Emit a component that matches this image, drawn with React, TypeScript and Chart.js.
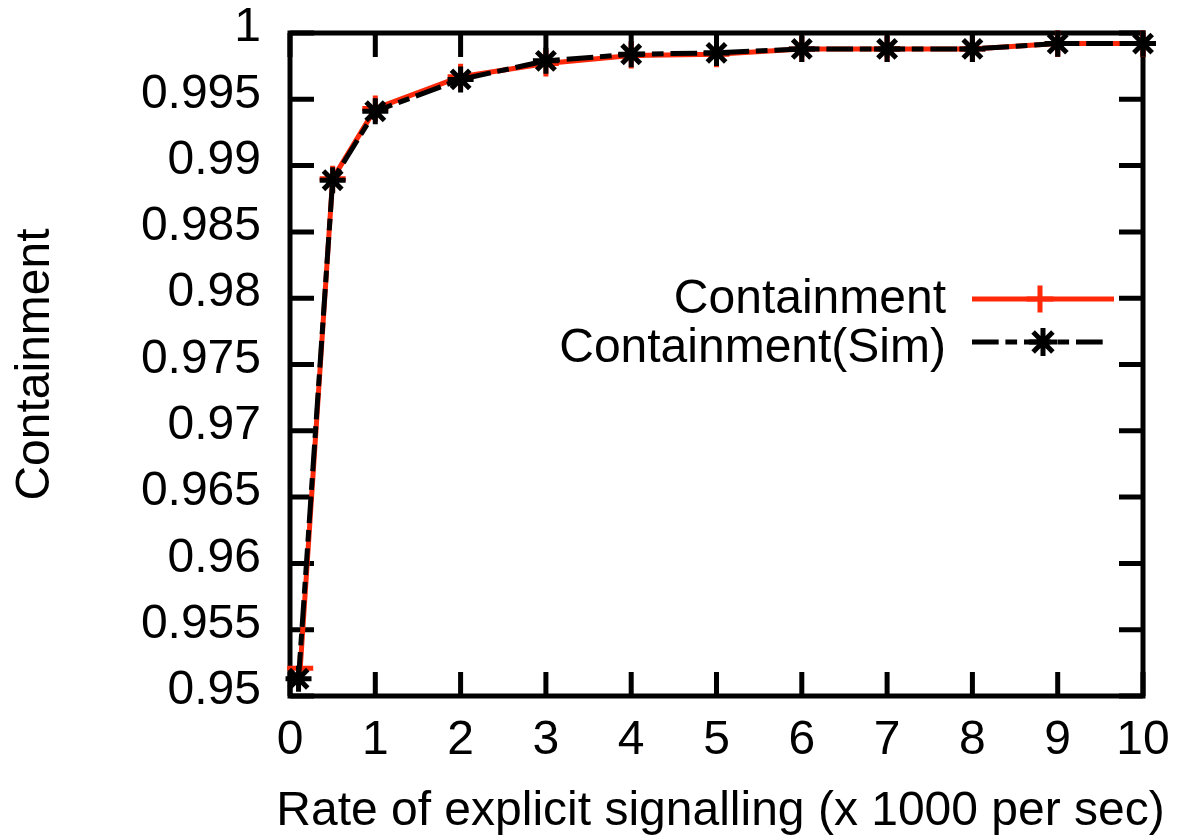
import { useEffect, useRef } from "react";
import { Chart, registerables } from "chart.js";

Chart.register(...registerables);

// Signalling rate (x 1000 per sec) and containment probability, analytic model
const containmentRate = [0.12, 0.5, 1, 2, 3, 4, 5, 6, 7, 8, 9, 10];
const containment = [0.9521, 0.989, 0.9943, 0.9967, 0.9977, 0.9983, 0.9984, 0.9988, 0.9988, 0.9988, 0.9992, 0.9992];

// Same quantity measured in simulation
const simRate = [0.1, 0.5, 1, 2, 3, 4, 5, 6, 7, 8, 9, 10];
const containmentSim = [0.9513, 0.9889, 0.9941, 0.9965, 0.9979, 0.9984, 0.9985, 0.9988, 0.9988, 0.9988, 0.9992, 0.9992];

const xTicks = [0, 1, 2, 3, 4, 5, 6, 7, 8, 9, 10];
const yTicks = [0.95, 0.955, 0.96, 0.965, 0.97, 0.975, 0.98, 0.985, 0.99, 0.995, 1];

const seriesLabels = ["Containment", "Containment(Sim)"];
const xTitle = "Rate of explicit signalling (x 1000 per sec)";
const yTitle = "Containment";

const RED = "rgb(255,40,8)";
const BLACK = "#000000";
const FONT = "'Liberation Sans', Arial, Helvetica, sans-serif";
const FONT_SIZE = 48;
const SIM_DASH = [26.7, 6.7, 11.7, 6.9];
const LINE_W = 5;
const MARK_R = 13;

function drawPlus(ctx: CanvasRenderingContext2D, x: number, y: number, r: number) {
  ctx.beginPath();
  ctx.moveTo(x - r, y);
  ctx.lineTo(x + r, y);
  ctx.moveTo(x, y - r);
  ctx.lineTo(x, y + r);
  ctx.stroke();
}

function drawStar(ctx: CanvasRenderingContext2D, x: number, y: number, r: number) {
  const d = r * Math.SQRT1_2;
  ctx.beginPath();
  ctx.moveTo(x - r, y);
  ctx.lineTo(x + r, y);
  ctx.moveTo(x, y - r);
  ctx.lineTo(x, y + r);
  ctx.moveTo(x - d, y - d);
  ctx.lineTo(x + d, y + d);
  ctx.moveTo(x - d, y + d);
  ctx.lineTo(x + d, y - d);
  ctx.stroke();
}

// Heavy border around the plot with inward tick marks on all four sides
const framePlugin = {
  id: "frame",
  beforeDatasetsDraw(chart: any) {
    const { ctx, chartArea: a, scales } = chart;
    const tl = 24;
    ctx.save();
    ctx.strokeStyle = BLACK;
    ctx.lineWidth = LINE_W;
    ctx.lineCap = "butt";
    ctx.beginPath();
    for (const v of xTicks) {
      const px = scales.x.getPixelForValue(v);
      ctx.moveTo(px, a.bottom);
      ctx.lineTo(px, a.bottom - tl);
      ctx.moveTo(px, a.top);
      ctx.lineTo(px, a.top + tl);
    }
    for (const v of yTicks) {
      const py = scales.y.getPixelForValue(v);
      ctx.moveTo(a.left, py);
      ctx.lineTo(a.left + tl, py);
      ctx.moveTo(a.right, py);
      ctx.lineTo(a.right - tl, py);
    }
    ctx.stroke();
    ctx.lineJoin = "miter";
    ctx.strokeRect(a.left, a.top, a.right - a.left, a.bottom - a.top);
    ctx.restore();
  },
};

// Key in the upper right: label text, then a line sample with its marker
const keyPlugin = {
  id: "key",
  afterDatasetsDraw(chart: any) {
    const { ctx, chartArea: a } = chart;
    const sampleEnd = a.right - 29;
    const sampleStart = sampleEnd - 142;
    const textRight = sampleStart - 26;
    const mid = (sampleStart + sampleEnd) / 2;
    const row1 = a.top + 266;
    const row2 = a.top + 309;
    ctx.save();
    ctx.font = `${FONT_SIZE}px ${FONT}`;
    ctx.fillStyle = BLACK;
    ctx.textAlign = "right";
    ctx.textBaseline = "alphabetic";
    ctx.fillText(seriesLabels[0], textRight, row1 + 14);
    ctx.fillText(seriesLabels[1], textRight, row2 + 20);

    ctx.lineWidth = LINE_W;
    ctx.lineCap = "butt";
    ctx.strokeStyle = RED;
    ctx.beginPath();
    ctx.moveTo(sampleStart, row1);
    ctx.lineTo(sampleEnd, row1);
    ctx.stroke();
    drawPlus(ctx, mid - 3, row1, 13.5);

    ctx.strokeStyle = BLACK;
    ctx.setLineDash(SIM_DASH);
    ctx.beginPath();
    ctx.moveTo(sampleStart, row2);
    ctx.lineTo(sampleEnd - 10, row2);
    ctx.stroke();
    ctx.setLineDash([]);
    drawStar(ctx, mid, row2, 14);
    ctx.restore();
  },
};

// Horizontal axis caption, drawn at its natural width (wider than the plot)
const xCaptionPlugin = {
  id: "xCaption",
  afterDraw(chart: any) {
    const { ctx, chartArea: a } = chart;
    ctx.save();
    ctx.font = `${FONT_SIZE}px ${FONT}`;
    ctx.fillStyle = BLACK;
    ctx.textAlign = "center";
    ctx.textBaseline = "middle";
    ctx.fillText(xTitle, (a.left + a.right) / 2 + 4, chart.height - 26.5);
    ctx.restore();
  },
};

// Keep the plot area governed by layout padding only
function noLabelOverhang(s: any) {
  s.paddingTop = 0;
  s.paddingBottom = 0;
  s.paddingLeft = 0;
  s.paddingRight = 0;
}

export default function App() {
  const canvasRef = useRef<HTMLCanvasElement | null>(null);

  useEffect(() => {
    const canvas = canvasRef.current;
    if (!canvas) return;
    const tickFont = { family: FONT, size: FONT_SIZE };
    const chart = new Chart(canvas, {
      type: "line",
      data: {
        datasets: [
          {
            label: seriesLabels[0],
            data: containmentRate.map((x, i) => ({ x, y: containment[i] })),
            borderColor: RED,
            backgroundColor: RED,
            borderWidth: LINE_W,
            pointStyle: "cross",
            pointRadius: MARK_R,
            pointBorderWidth: LINE_W,
            pointBorderColor: RED,
            pointBackgroundColor: RED,
            tension: 0,
            clip: false,
            order: 1,
          },
          {
            label: seriesLabels[1],
            data: simRate.map((x, i) => ({ x, y: containmentSim[i] })),
            borderColor: BLACK,
            backgroundColor: BLACK,
            borderWidth: LINE_W,
            borderDash: SIM_DASH,
            pointStyle: "star",
            pointRadius: MARK_R,
            pointBorderWidth: LINE_W,
            pointBorderColor: BLACK,
            pointBackgroundColor: BLACK,
            tension: 0,
            clip: false,
            order: 0,
          },
        ],
      } as any,
      options: {
        responsive: false,
        animation: false,
        devicePixelRatio: 1,
        events: [],
        layout: { padding: { top: 33, right: 34, left: 0, bottom: 0 } },
        plugins: { legend: { display: false }, tooltip: { enabled: false } },
        scales: {
          x: {
            type: "linear",
            min: 0,
            max: 10,
            afterBuildTicks: (s: any) => {
              s.ticks = xTicks.map((value) => ({ value }));
            },
            afterFit: (s: any) => {
              s.height = 142;
              noLabelOverhang(s);
            },
            grid: { display: false, drawTicks: false },
            border: { display: false },
            ticks: {
              padding: 16,
              font: tickFont,
              color: BLACK,
              maxRotation: 0,
              autoSkip: false,
              callback: (v: any) => String(v),
            },
            title: { display: false },
          },
          y: {
            type: "linear",
            min: 0.95,
            max: 1,
            afterBuildTicks: (s: any) => {
              s.ticks = yTicks.map((value) => ({ value }));
            },
            afterFit: (s: any) => {
              s.width = 290;
              noLabelOverhang(s);
            },
            grid: { display: false, drawTicks: false },
            border: { display: false },
            ticks: {
              padding: 29,
              labelOffset: -5,
              font: tickFont,
              color: BLACK,
              autoSkip: false,
              callback: (v: any) => String(Number(Number(v).toFixed(3))),
            },
            title: {
              display: true,
              text: yTitle,
              color: BLACK,
              font: { family: FONT, size: FONT_SIZE, lineHeight: 1 },
              padding: { top: 11.5, bottom: 0 },
            },
          },
        },
      } as any,
      plugins: [framePlugin, keyPlugin, xCaptionPlugin],
    });
    return () => chart.destroy();
  }, []);

  return (
    <div style={{ position: "absolute", left: 0, top: 0, width: 1177, height: 838, background: "#ffffff" }}>
      <canvas ref={canvasRef} width={1177} height={838} style={{ display: "block" }} />
    </div>
  );
}
